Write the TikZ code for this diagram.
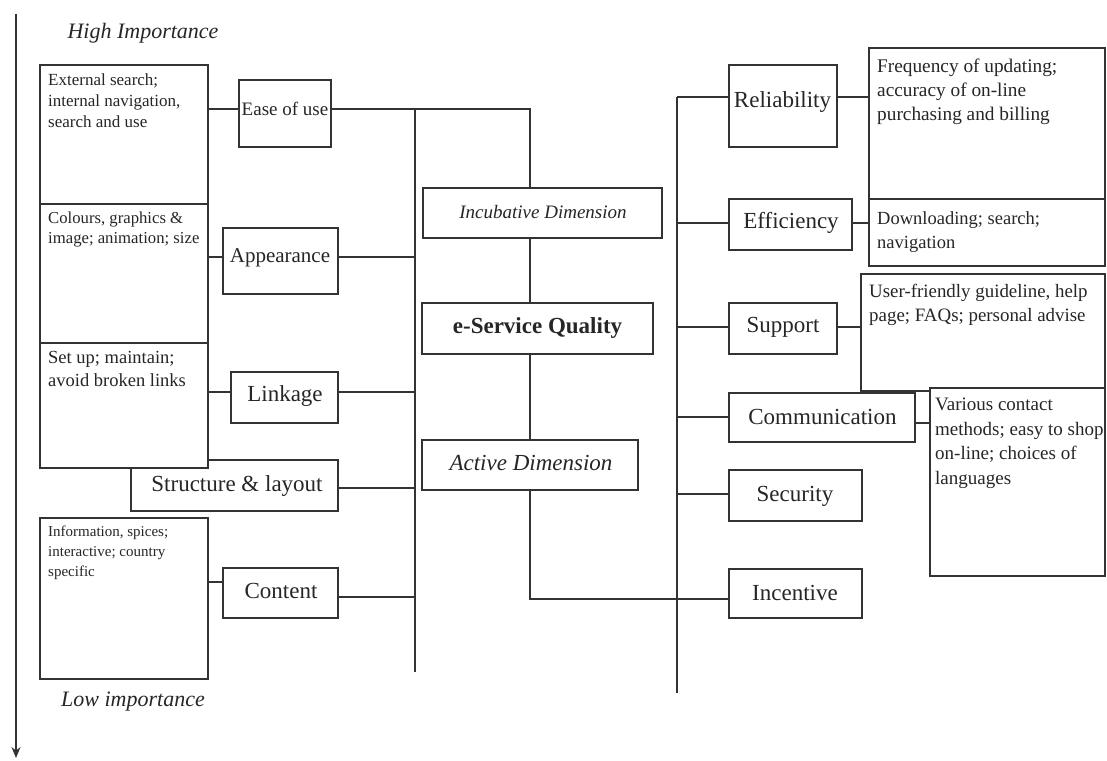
\documentclass[tikz,border=0pt]{standalone}
\usepackage{fontspec}
\setmainfont{Liberation Serif}
\usetikzlibrary{arrows.meta,fit}
\newcommand\mkbox[5]{\node[bx,fit={(#2,#3) (#4,#5)}] (#1) {};}
\newcommand\fs[1]{\fontsize{#1}{#1}\selectfont}
\begin{document}
\begin{tikzpicture}[x=1pt,y=-1pt,
  bx/.style={draw=black!80,line width=1.3pt,fill=white,inner sep=0pt},
  ln/.style={draw=black!80,line width=1.3pt},
  lbl/.style={inner sep=0pt,text=black!85},
  det/.style={inner sep=0pt,anchor=north west,align=left,text=black!85}]
\useasboundingbox (0,0) rectangle (1107,760);
% importance axis
\coordinate (axtop) at (16,14);
\coordinate (axbot) at (16,758);
\draw[ln,-{Stealth[length=11pt,width=9pt]}] (axtop) -- (axbot);
\node[lbl,font=\fs{22}\itshape] (hi) at (143,33) {High Importance};
\node[lbl,font=\fs{22}\itshape] (lo) at (133,702) {Low importance};
% left side boxes
\mkbox{struct}{131}{460}{338}{511}
\mkbox{d1}{40}{65}{208}{204}
\mkbox{d2}{40}{204}{208}{343}
\mkbox{d3}{40}{343}{208}{468}
\mkbox{d4}{40}{518}{208}{679}
\mkbox{ease}{239}{80}{331}{147}
\mkbox{app}{223}{228}{338}{294}
\mkbox{link}{231}{372}{338}{423}
\mkbox{content}{223}{568}{338}{618}
% centre boxes
\mkbox{inc}{423}{188}{662}{238}
\mkbox{esq}{422}{303}{653}{354}
\mkbox{act}{422}{440}{638}{490}
% right side boxes
\mkbox{rel}{729}{65}{837}{147}
\mkbox{reldet}{869}{48}{1105}{199}
\mkbox{eff}{729}{199}{852}{250}
\mkbox{effdet}{869}{199}{1105}{266}
\mkbox{sup}{729}{303}{837}{354}
\mkbox{supdet}{861}{274}{1105}{391}
\mkbox{comm}{729}{393}{915}{442}
\mkbox{commdet}{930}{388}{1105}{576}
\mkbox{sec}{729}{470}{862}{521}
\mkbox{incent}{729}{569}{862}{618}
% spines
\coordinate (lstop) at (415,109);
\coordinate (lsbot) at (415,672);
\coordinate (rstop) at (677,97);
\coordinate (rsbot) at (677,693);
\coordinate (cx) at (530,0);
\draw[ln] (lstop) -- (lsbot);
\draw[ln] (rstop) -- (rsbot);
% left connectors
\coordinate (y1) at (0,109);
\coordinate (y2) at (0,257);
\coordinate (y3) at (0,392);
\coordinate (y4) at (0,488);
\coordinate (y5a) at (0,582);
\coordinate (y5b) at (0,597);
\draw[ln] (d1.east |- y1) -- (ease.west |- y1);
\draw[ln] (ease.east |- y1) -- (cx |- y1) -- (cx |- inc.north);
\draw[ln] (d2.east |- y2) -- (app.west |- y2);
\draw[ln] (app.east |- y2) -- (lstop |- y2);
\draw[ln] (d3.east |- y3) -- (link.west |- y3);
\draw[ln] (link.east |- y3) -- (lstop |- y3);
\draw[ln] (struct.east |- y4) -- (lstop |- y4);
\draw[ln] (d4.east |- y5a) -- (content.west |- y5a);
\draw[ln] (content.east |- y5b) -- (lstop |- y5b);
% centre connectors
\coordinate (yinc) at (0,599);
\draw[ln] (cx |- inc.south) -- (cx |- esq.north);
\draw[ln] (cx |- esq.south) -- (cx |- act.north);
\draw[ln] (cx |- act.south) -- (cx |- yinc) -- (incent.west |- yinc);
% right connectors
\coordinate (r1) at (0,97);
\coordinate (r2) at (0,223);
\coordinate (r3) at (0,327);
\coordinate (r4a) at (0,417);
\coordinate (r4b) at (0,423);
\coordinate (r5) at (0,494);
\draw[ln] (rstop |- r1) -- (rel.west |- r1);
\draw[ln] (rel.east |- r1) -- (reldet.west |- r1);
\draw[ln] (rstop |- r2) -- (eff.west |- r2);
\draw[ln] (eff.east |- r2) -- (effdet.west |- r2);
\draw[ln] (rstop |- r3) -- (sup.west |- r3);
\draw[ln] (sup.east |- r3) -- (supdet.west |- r3);
\draw[ln] (rstop |- r4a) -- (comm.west |- r4a);
\draw[ln] (comm.east |- r4b) -- (commdet.west |- r4b);
\draw[ln] (rstop |- r5) -- (sec.west |- r5);
% labels
\node[lbl,font=\fs{19}] (tease) at (285,109) {Ease of use};
\node[lbl,font=\fs{21}] (tapp) at (280,258) {Appearance};
\node[lbl,font=\fs{23}] (tlink) at (285,396) {Linkage};
\node[lbl,font=\fs{23}] (tstruct) at (237,486) {Structure \& layout};
\node[lbl,font=\fs{23}] (tcontent) at (281,591) {Content};
\node[lbl,font=\fs{19}\itshape] (tinc) at (543,212) {Incubative Dimension};
\node[lbl,font=\fs{23}\bfseries] (tesq) at (537.5,328) {e-Service Quality};
\node[lbl,font=\fs{23}\itshape] (tact) at (531,463) {Active Dimension};
\node[lbl,font=\fs{23}] (trel) at (782.5,102) {Reliability};
\node[lbl,font=\fs{23}] (teff) at (791,223) {Efficiency};
\node[lbl,font=\fs{23}] (tsup) at (783,327) {Support};
\node[lbl,font=\fs{23}] (tcomm) at (822.5,417) {Communication};
\node[lbl,font=\fs{23}] (tsec) at (795,496) {Security};
\node[lbl,font=\fs{23}] (tincent) at (795,593) {Incentive};
% detail texts
\node[det,font=\fontsize{17}{21}\selectfont] (td1) at (48,74) {External search;\\internal navigation,\\search and use};
\node[det,font=\fontsize{16.7}{20}\selectfont] (td2) at (48,212) {Colours, graphics \&\\image; animation; size};
\node[det,font=\fontsize{18.5}{23}\selectfont] (td3) at (48,351) {Set up; maintain;\\avoid broken links};
\node[det,font=\fontsize{15}{20}\selectfont] (td4) at (48,526) {Information, spices;\\interactive; country\\specific};
\node[det,font=\fontsize{19.3}{24}\selectfont] (treldet) at (877,59) {Frequency of updating;\\accuracy of on-line\\purchasing and billing};
\node[det,font=\fontsize{18.5}{24}\selectfont] (teffdet) at (877,211) {Downloading; search;\\navigation};
\node[det,font=\fontsize{18.9}{24}\selectfont] (tsupdet) at (869,284) {User-friendly guideline, help\\page; FAQs; personal advise};
\node[det,font=\fontsize{19}{24.5}\selectfont] (tcommdet) at (935,398) {Various contact\\methods; easy to shop\\on-line; choices of\\languages};
\end{tikzpicture}
\end{document}
